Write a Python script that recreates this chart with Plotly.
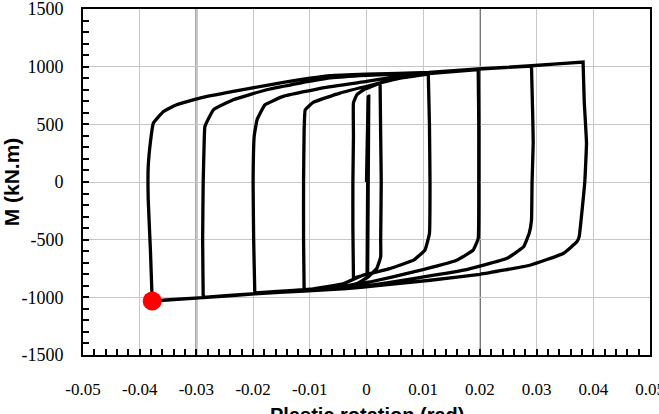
import plotly.graph_objects as go

# ---- data: hysteresis path, branch by branch (plastic rotation in rad, moment in kN.m) ----
c0_rot = [0.0000, 0.0003, 0.0001, 0.0004, 0.0002]
c0_m = [0, 742, -790, 745, -795]

lo0_rot = [0.0002, -0.0010, -0.0023]
lo0_m = [-795, -815, -835]

up1_rot = [-0.0023, -0.0024, -0.0024, -0.0023, -0.0023, -0.0017, -0.0005, 0.0010, 0.0024]
up1_m = [-835, -400, 0, 400, 687, 757, 800, 830, 858]

lo1_rot = [0.0024, 0.0025, 0.0026, 0.0025, 0.0025, 0.0018, 0.0003, -0.0017, -0.0050, -0.0110]
lo1_m = [858, 400, 0, -500, -650, -750, -823, -881, -910, -935]

up2_rot = [-0.0110, -0.0111, -0.0111, -0.0110, -0.0108, -0.0094, -0.0047, 0.0011, 0.0060, 0.0109]
up2_m = [-935, -500, 0, 450, 626, 690, 771, 843, 900, 935]

lo2_rot = [0.0109, 0.0111, 0.0112, 0.0111, 0.0103, 0.0083, 0.0041, -0.0006, -0.0040, -0.0100, -0.0197]
lo2_m = [935, 500, 0, -446, -591, -678, -751, -809, -880, -930, -962]

up3_rot = [-0.0197, -0.0199, -0.0200, -0.0198, -0.0193, -0.0179, -0.0147, -0.0077, 0.0000, 0.0050, 0.0110, 0.0197]
up3_m = [-962, -500, 0, 400, 540, 670, 742, 817, 872, 910, 940, 975]

lo3_rot = [0.0197, 0.0198, 0.0198, 0.0197, 0.0188, 0.0159, 0.0083, 0.0006, -0.0050, -0.0110, -0.0197, -0.0288]
lo3_m = [975, 500, 0, -490, -591, -678, -780, -867, -915, -940, -968, -1000]

up4_rot = [-0.0288, -0.0289, -0.0288, -0.0286, -0.0285, -0.0270, -0.0235, -0.0176, -0.0117, -0.0064, 0.0000, 0.0110, 0.0197, 0.0291]
up4_m = [-1000, -500, 0, 400, 481, 626, 713, 800, 858, 902, 925, 945, 978, 1005]

lo4_rot = [0.0291, 0.0293, 0.0294, 0.0292, 0.0291, 0.0287, 0.0277, 0.0247, 0.0171, 0.0083, -0.0006, -0.0050, -0.0110, -0.0197, -0.0288, -0.0378]
lo4_m = [1005, 600, 339, 0, -330, -443, -562, -664, -765, -838, -904, -922, -942, -968, -1002, -1030]

up5_rot = [-0.0378, -0.0381, -0.0385, -0.0385, -0.0381, -0.0376, -0.0358, -0.0335, -0.0294, -0.0235, -0.0176, -0.0117, -0.0064, 0.0000, 0.0110, 0.0197, 0.0291, 0.0382]
up5_m = [-1030, -600, -150, 130, 350, 510, 611, 670, 728, 785, 838, 887, 922, 935, 950, 980, 1008, 1040]

lo5_rot = [0.0382, 0.0384, 0.0388, 0.0385, 0.0382, 0.0375, 0.0371, 0.0347, 0.0288, 0.0200, 0.0112, 0.0024, -0.0035, -0.0110, -0.0197, -0.0288, -0.0378]
lo5_m = [1040, 700, 336, 0, -157, -476, -519, -620, -722, -800, -852, -896, -925, -945, -970, -1003, -1032]

end_rot = [-0.0378]
end_m = [-1032]

x_tick_vals = [-0.05, -0.04, -0.03, -0.02, -0.01, 0, 0.01, 0.02, 0.03, 0.04, 0.05]
x_tick_text = ["-0.05", "-0.04", "-0.03", "-0.02", "-0.01", "0", "0.01", "0.02", "0.03", "0.04", "0.05"]
y_tick_vals = [-1500, -1000, -500, 0, 500, 1000, 1500]
y_tick_text = ["-1500", "-1000", "-500", "0", "500", "1000", "1500"]
dark_grid_x = [-0.03, 0.02]

branches_rot = [c0_rot, lo0_rot, up1_rot, lo1_rot, up2_rot, lo2_rot, up3_rot, lo3_rot,
                up4_rot, lo4_rot, up5_rot, lo5_rot]
branches_m = [c0_m, lo0_m, up1_m, lo1_m, up2_m, lo2_m, up3_m, lo3_m,
              up4_m, lo4_m, up5_m, lo5_m]
path_rot, path_m = [], []
for r, m in zip(branches_rot, branches_m):
    path_rot += r
    path_m += m

fig = go.Figure()
fig.add_trace(go.Scatter(x=path_rot, y=path_m, mode="lines",
                         line=dict(color="black", width=3.3, shape="spline", smoothing=0.3),
                         showlegend=False, hoverinfo="skip"))
fig.add_trace(go.Scatter(x=end_rot, y=end_m, mode="markers",
                         marker=dict(color="#ff0000", size=19, line=dict(width=0)),
                         showlegend=False, hoverinfo="skip"))

for xv in dark_grid_x:
    fig.add_vline(x=xv, line_color="#555555", line_width=1.8, layer="below")

serif = "Liberation Serif, Times New Roman, Times, serif"
sans = "Liberation Sans, Arial, Helvetica, sans-serif"

axis_common = dict(showline=True, linecolor="black", linewidth=2, mirror=True,
                   showgrid=True, gridcolor="#c6c6c6", gridwidth=1, zeroline=False,
                   ticks="inside", ticklen=6, tickcolor="black", tickwidth=1.5,
                   ticklabeloverflow="allow", automargin=False)

fig.update_xaxes(range=[-0.05, 0.05], tickmode="array", tickvals=x_tick_vals, ticktext=x_tick_text,
                 tickfont=dict(family=serif, size=17, color="black"),
                 minor=dict(dtick=0.002, tick0=0, ticks="inside", ticklen=6, tickcolor="black",
                            tickwidth=1.5, showgrid=False),
                 ticklabelstandoff=18, **axis_common)
fig.update_yaxes(range=[-1500, 1500], tickmode="array", tickvals=y_tick_vals, ticktext=y_tick_text,
                 tickfont=dict(family=serif, size=18, color="black"),
                 minor=dict(dtick=100, tick0=0, ticks="inside", ticklen=6, tickcolor="black",
                            tickwidth=1.5, showgrid=False),
                 title=dict(text="M (kN.m)", standoff=6,
                            font=dict(family=sans, size=21, color="black", weight="bold")),
                 ticklabelstandoff=14, **axis_common)

fig.add_annotation(text="Plastic rotation (rad)", xref="paper", yref="paper", x=0.5, y=0,
                   xanchor="center", yanchor="top", yshift=-47, showarrow=False,
                   font=dict(family=sans, size=20, color="black", weight="bold"))

fig.update_layout(width=659, height=414, margin=dict(l=83, r=9, t=9, b=59),
                  paper_bgcolor="white", plot_bgcolor="white")

fig.write_html("out.html")
